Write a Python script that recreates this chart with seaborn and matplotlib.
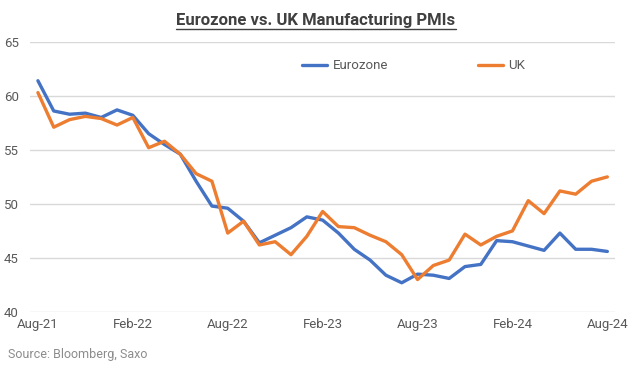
import numpy as np
import pandas as pd
import matplotlib
matplotlib.use('Agg')
from matplotlib import pyplot as plt
from matplotlib.lines import Line2D
import seaborn as sns

months = pd.date_range('2021-08-01', '2024-08-01', freq='MS')
eurozone = [61.4, 58.6, 58.3, 58.4, 58.0, 58.7, 58.2, 56.5, 55.5, 54.6, 52.1, 49.8,
            49.6, 48.4, 46.4, 47.1, 47.8, 48.8, 48.5, 47.3, 45.8, 44.8, 43.4, 42.7,
            43.5, 43.4, 43.1, 44.2, 44.4, 46.6, 46.5, 46.1, 45.7, 47.3, 45.8, 45.8, 45.6]
uk = [60.3, 57.1, 57.8, 58.1, 57.9, 57.3, 58.0, 55.2, 55.8, 54.6, 52.8, 52.1,
      47.3, 48.4, 46.2, 46.5, 45.3, 47.0, 49.3, 47.9, 47.8, 47.1, 46.5, 45.3,
      43.0, 44.3, 44.8, 47.2, 46.2, 47.0, 47.5, 50.3, 49.1, 51.2, 50.9, 52.1, 52.5]
tick_labels = ['Aug-21', 'Feb-22', 'Aug-22', 'Feb-23', 'Aug-23', 'Feb-24', 'Aug-24']

df = pd.DataFrame({'idx': np.arange(len(months)), 'Eurozone': eurozone, 'UK': uk})
long = df.melt(id_vars='idx', var_name='series', value_name='pmi')

sns.set_style('white')
plt.rcParams['font.family'] = ['Roboto', 'DejaVu Sans']

fig = plt.figure(figsize=(6.32, 3.67), dpi=100)
ax = fig.add_axes([0.0475, 0.150, 0.926, 0.736])

sns.lineplot(data=long, x='idx', y='pmi', hue='series',
             palette={'Eurozone': '#4472C4', 'UK': '#ED7D31'},
             linewidth=2.4, ax=ax, legend=False)

ax.set_xlim(-0.5, 36.5)
ax.set_ylim(40, 65)
ax.set_yticks([40, 45, 50, 55, 60, 65])
ax.set_xticks(np.arange(0, 37, 6))
ax.set_xticklabels(tick_labels)
ax.set_xlabel('')
ax.set_ylabel('')
ax.grid(axis='y', color='#d9d9d9', linewidth=1)
for s in ax.spines.values():
    s.set_visible(False)
ax.tick_params(axis='both', colors='#595959', labelsize=9.5, length=0, pad=4)
ax.tick_params(axis='y', pad=8)

handles = [Line2D([], [], color='#4472C4', linewidth=2.4),
           Line2D([], [], color='#ED7D31', linewidth=2.4)]
leg = ax.legend(handles, ['Eurozone', 'UK'], ncol=2, frameon=False,
                loc='center left', bbox_to_anchor=(0.465, 0.911),
                handlelength=1.9, columnspacing=6.8, handletextpad=0.4,
                fontsize=9.5, borderaxespad=0, borderpad=0)
for t in leg.get_texts():
    t.set_color('#595959')

title = fig.text(0.5, 0.945, 'Eurozone vs. UK Manufacturing PMIs', ha='center', va='center',
                 fontsize=12, fontweight='bold', color='#404040')
fig.text(0.013, 0.033, 'Source: Bloomberg, Saxo', ha='left', va='center',
         fontsize=9, color='#8c8c8c')

fig.canvas.draw()
bb = title.get_window_extent().transformed(fig.transFigure.inverted())
fig.add_artist(Line2D([bb.x0, bb.x1], [bb.y0 - 0.004, bb.y0 - 0.004],
                      color='#404040', linewidth=1, transform=fig.transFigure))

fig.savefig('out.png', dpi=100, facecolor='white')
